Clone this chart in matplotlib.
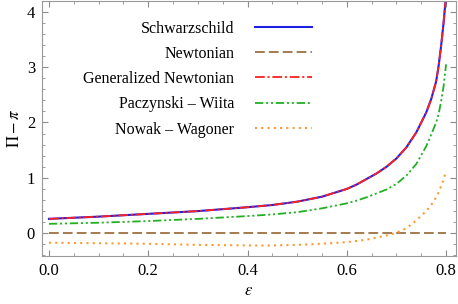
import matplotlib
matplotlib.use("Agg")
import matplotlib.pyplot as plt
import numpy as np

# values
eps = [0.0, 0.1, 0.2, 0.3, 0.4, 0.45, 0.5, 0.55, 0.6, 0.62, 0.64, 0.66,
       0.68, 0.70, 0.72, 0.74, 0.76, 0.77, 0.78, 0.785, 0.79, 0.795, 0.80]
schwarzschild = [0.26, 0.30, 0.35, 0.40, 0.47, 0.51, 0.57, 0.66, 0.80, 0.88,
                 0.98, 1.08, 1.20, 1.35, 1.55, 1.82, 2.18, 2.42, 2.74, 3.02,
                 3.38, 3.80, 4.30]
newtonian = [0.0] * len(eps)
generalized = schwarzschild
paczynski = [0.17, 0.19, 0.22, 0.26, 0.31, 0.34, 0.38, 0.45, 0.54, 0.59,
             0.65, 0.72, 0.79, 0.89, 1.04, 1.25, 1.57, 1.78, 2.00, 2.15,
             2.38, 2.65, 3.05]
nowak = [-0.17, -0.18, -0.19, -0.21, -0.22, -0.22, -0.21, -0.19, -0.16, -0.14,
         -0.115, -0.08, -0.04, 0.01, 0.09, 0.23, 0.40, 0.51, 0.65, 0.74,
         0.85, 0.97, 1.13]

labels = ["Schwarzschild", "Newtonian", "Generalized Newtonian",
          "Paczynski \u2013 Wiita", "Nowak \u2013 Wagoner"]

plt.rcParams['font.family'] = ['Liberation Serif', 'DejaVu Serif']
plt.rcParams['mathtext.fontset'] = 'stix'
plt.rcParams['lines.scale_dashes'] = False

fig = plt.figure(figsize=(4.58, 3.04), dpi=100)
ax = fig.add_axes([0.0917, 0.158, 0.9039, 0.840])

ax.plot(eps, schwarzschild, color='#2020e0', lw=1.5, label=labels[0])
ax.plot(eps, newtonian, color='#9e7040', lw=1.3, ls=(0, (7, 3)), label=labels[1])
ax.plot(eps, generalized, color='#ff2020', lw=1.3, ls=(0, (7, 2, 1.5, 2)), label=labels[2])
ax.plot(eps, paczynski, color='#22b022', lw=1.3,
        ls=(0, (6, 2, 1.5, 2, 1.5, 2)), label=labels[3])
ax.plot(eps, nowak, color='#ff9a30', lw=1.5, ls=(0, (1.5, 3)), label=labels[4])

ax.set_xlim(-0.014, 0.82)
ax.set_ylim(-0.41, 4.2)
ax.set_xticks([0.0, 0.2, 0.4, 0.6, 0.8])
ax.set_xticklabels(["0.0", "0.2", "0.4", "0.6", "0.8"])
ax.set_yticks([0, 1, 2, 3, 4])
ax.set_xticks(np.arange(0, 0.81, 0.05), minor=True)
ax.set_yticks(np.arange(-0.4, 4.2, 0.2), minor=True)

for s in ax.spines.values():
    s.set_color('0.6')
    s.set_linewidth(0.8)
ax.tick_params(which='both', direction='in', top=True, right=True,
               color='0.55', labelsize=12, pad=5)
ax.tick_params(which='major', length=4.5)
ax.tick_params(which='minor', length=2.5)

ax.set_xlabel(r"$\varepsilon$", fontsize=12, labelpad=3)
ax.set_ylabel(r"$\Pi - \pi$", fontsize=12, labelpad=3)

ax.legend(loc='upper right', bbox_to_anchor=(0.652, 0.922), frameon=False,
          markerfirst=False, fontsize=11.5, handlelength=3.56, handletextpad=1.3,
          labelspacing=0.58, borderpad=0, borderaxespad=0)

fig.savefig("out.png", dpi=100)
